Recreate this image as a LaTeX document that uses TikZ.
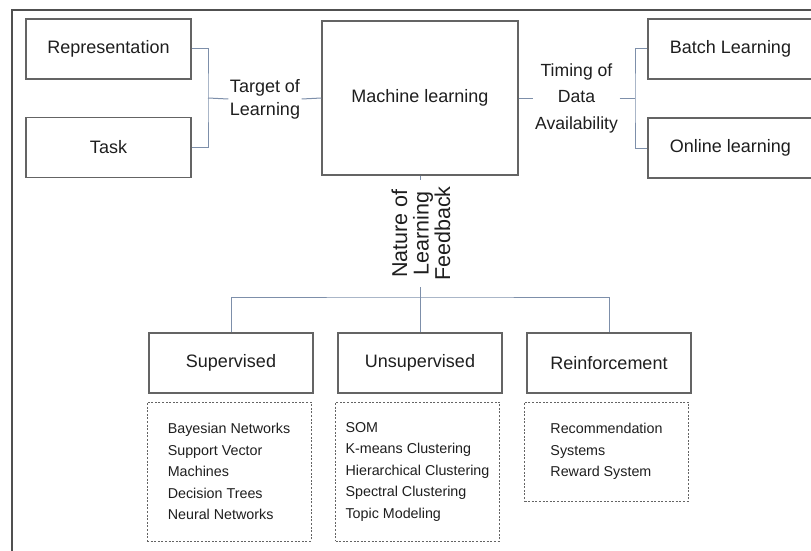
\documentclass[tikz,border=0pt]{standalone}
\usepackage{fontspec}
\setmainfont{Liberation Sans}
\definecolor{boxgray}{RGB}{100,100,100}
\definecolor{conn}{RGB}{125,143,170}
\definecolor{txt}{RGB}{30,30,30}
\definecolor{framegray}{RGB}{80,80,80}
\begin{document}
\begin{tikzpicture}[x=1pt,y=-1pt,
  box/.style={draw=boxgray, line width=1.2pt, minimum width=165pt, minimum height=60pt,
    inner sep=0pt, text=txt, font=\fontsize{18}{22}\selectfont},
  listbox/.style={draw=boxgray, line width=1pt, dash pattern=on 2pt off 1.6pt,
    minimum width=164pt, inner sep=0pt, align=left, text=txt,
    font=\fontsize{14.3}{21.5}\selectfont},
  lbl/.style={inner xsep=1.5pt, inner ysep=2pt, align=center, text=txt},
  link/.style={draw=conn, line width=1pt}]
\useasboundingbox (0,0) rectangle (811,551);
\clip (0,0) rectangle (811,551);

% outer frame
\draw[framegray, line width=1.8pt] (12,551) -- (12,10) -- (811,10);

% top row
\node[box] (rep)    at (108.5,49)   {Representation};
\node[box] (task)   at (108.5,147.5){Task};
\node[box, minimum width=196pt, minimum height=154pt] (ml) at (420,98) {Machine learning};
\node[box] (batch)  at (730.5,49)   {Batch Learning};
\node[box] (online) at (730.5,148)  {Online learning};

% grouping labels
\node[lbl, font=\fontsize{18}{23}\selectfont] (tgt) at (265,99) {Target of\\Learning};
\node[lbl, font=\fontsize{17.6}{26.5}\selectfont] (tim) at (576.5,98) {Timing of\\Data\\Availability};
\node[lbl, rotate=90, inner xsep=6.5pt, inner ysep=1pt, font=\fontsize{21.5}{21.5}\selectfont] (nat) at (421,233.5) {Nature of\\Learning\\Feedback};

% learning paradigms
\node[box, minimum width=164pt] (sup)   at (231,363) {Supervised};
\node[box, minimum width=164pt] (unsup) at (420,363) {Unsupervised};
\node[box, minimum width=164pt] (reinf) at (609,363) {Reinforcement};

% algorithm lists
\node[listbox, minimum height=139pt] (supl)   at (229,471.5) {Bayesian Networks\\Support Vector\\Machines\\Decision Trees\\Neural Networks};
\node[listbox, minimum height=139pt] (unsupl) at (417.5,471.5) {SOM\\K-means Clustering\\Hierarchical Clustering\\Spectral Clustering\\Topic Modeling};
\node[listbox, minimum height=99pt]  (reinfl) at (606.5,451.5) {Recommendation\\Systems\\Reward System};

% junction points
\coordinate (jl) at (208,98);
\coordinate (jr) at (635,98);
\coordinate (jb) at (420,297);

% connectors
\draw[link] (rep.east) -| (jl) |- (task.east);
\draw[link] (jl) -- (tgt.west);
\draw[link] (tgt.east) -- (ml.west);
\draw[link] (ml.east) -- (tim.west);
\draw[link] (tim.east) -- (jr);
\draw[link] (batch.west) -| (jr) |- (online.west);
\draw[link] (ml.south) -- (ml.south |- nat.east);
\draw[link] (jb |- nat.west) -- (jb);
\draw[link] (sup.north) |- (jb) -| (reinf.north);
\draw[link] (jb) -- (unsup.north);
\end{tikzpicture}
\end{document}
